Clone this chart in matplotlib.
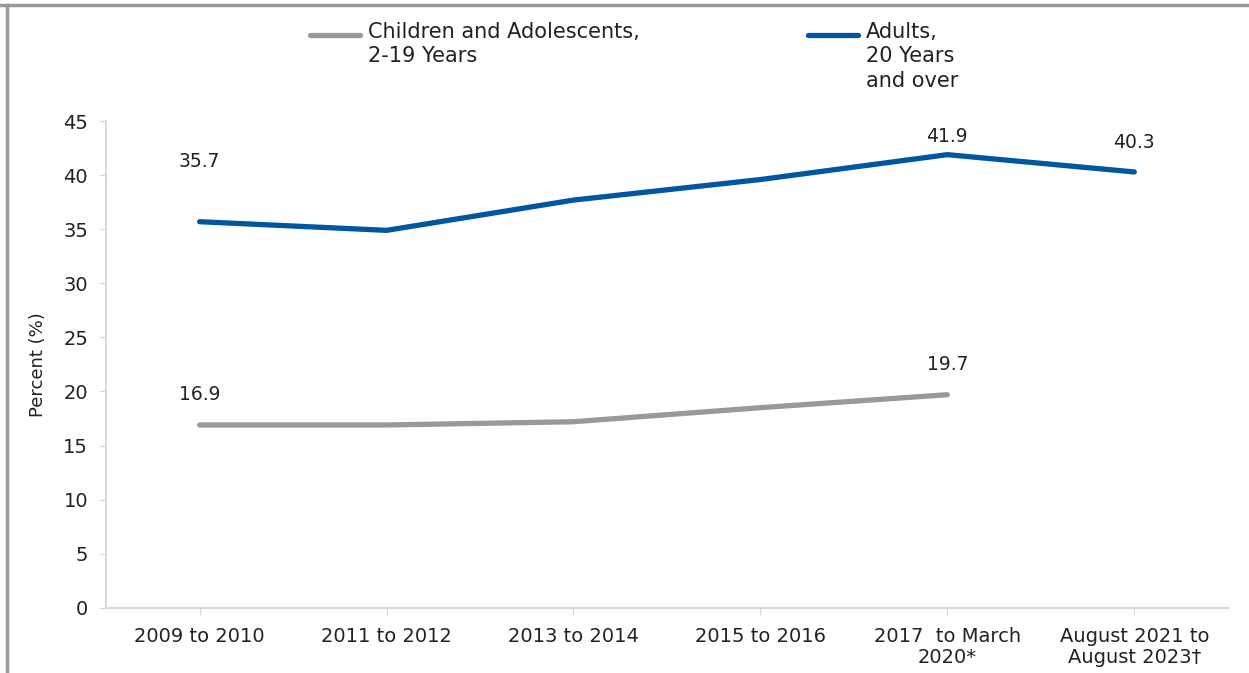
import matplotlib.pyplot as plt
from matplotlib.lines import Line2D

# Obesity prevalence by survey period
periods = ["2009 to 2010", "2011 to 2012", "2013 to 2014", "2015 to 2016",
           "2017  to March\n2020*", "August 2021 to\nAugust 2023\u2020"]
children = [16.9, 16.9, 17.2, 18.5, 19.7]
adults = [35.7, 34.9, 37.7, 39.6, 41.9, 40.3]
series_names = ["Children and Adolescents,\n2-19 Years", "Adults,\n20 Years\nand over"]

# labelled points: index -> offset in points above the point
child_labels = {0: 22, 4: 22}
adult_labels = {0: 43, 4: 13, 5: 21}

GRAY = "#999999"
BLUE = "#0057a0"
AXIS = "#d9d9d9"
TEXT = "#222222"

fig = plt.figure(figsize=(12.49, 6.73), dpi=100)
ax = fig.add_axes([0.085, 0.097, 0.898, 0.723])

ax.plot(range(len(children)), children, color=GRAY, lw=3.8, solid_capstyle="round")
ax.plot(range(len(adults)), adults, color=BLUE, lw=3.8, solid_capstyle="round")

for i, off in child_labels.items():
    ax.annotate(f"{children[i]:.1f}", (i, children[i]), xytext=(0, off),
                textcoords="offset points", ha="center", va="center",
                fontsize=13.5, color=TEXT)
for i, off in adult_labels.items():
    ax.annotate(f"{adults[i]:.1f}", (i, adults[i]), xytext=(0, off),
                textcoords="offset points", ha="center", va="center",
                fontsize=13.5, color=TEXT)

ax.set_xlim(-0.5, len(periods) - 0.5)
ax.set_ylim(0, 45)
ax.set_yticks(range(0, 50, 5))
ax.set_xticks(range(len(periods)))
ax.set_xticklabels(periods, fontsize=14, color=TEXT, linespacing=1.15)
ax.tick_params(axis="y", labelsize=14, colors=TEXT, length=5, color=AXIS, pad=8)
ax.tick_params(axis="x", length=5, color=AXIS, pad=9)
ax.set_ylabel("Percent (%)", fontsize=13, color=TEXT, labelpad=12)

for side in ("top", "right"):
    ax.spines[side].set_visible(False)
for side in ("left", "bottom"):
    ax.spines[side].set_color(AXIS)
    ax.spines[side].set_linewidth(1.5)

# legend: line swatch next to the first line of each label
W, H = fig.get_size_inches() * fig.dpi
for (x0, colour), name in zip([(310, GRAY), (808, BLUE)], series_names):
    y = 1 - 35 / H
    fig.add_artist(Line2D([x0 / W, (x0 + 50) / W], [y, y], color=colour, lw=3.8,
                          solid_capstyle="round", transform=fig.transFigure))
    fig.text((x0 + 58) / W, 1 - 22 / H, name, ha="left", va="top",
             fontsize=15, color=TEXT, linespacing=1.27)

# frame edges along the top and left of the figure
fig.add_artist(Line2D([0, 1], [1 - 5 / H] * 2, color="#999999", lw=2.5,
                      transform=fig.transFigure))
fig.add_artist(Line2D([7 / W] * 2, [0, 1 - 5 / H], color="#999999", lw=2.5,
                      transform=fig.transFigure))

fig.savefig("out.png", dpi=100)
